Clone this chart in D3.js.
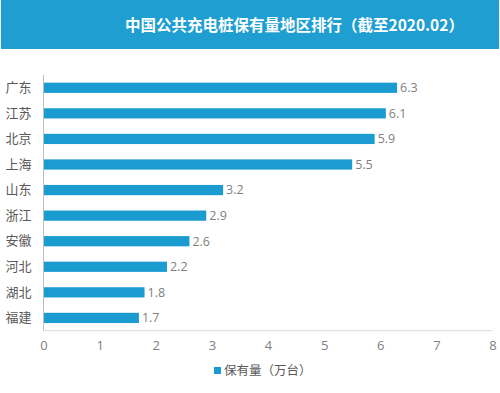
<!DOCTYPE html>
<html><head><meta charset="utf-8">
<script src="https://cdn.jsdelivr.net/npm/d3@7"></script>
<style>
html,body{margin:0;padding:0;background:#fff;}
svg{display:block;}
</style></head>
<body>
<svg id="c" width="500" height="393"></svg>
<script>
const categories = ["广东","江苏","北京","上海","山东","浙江","安徽","河北","湖北","福建"];
const values = [6.3, 6.1, 5.9, 5.5, 3.2, 2.9, 2.6, 2.2, 1.8, 1.7];
const xTicks = [0,1,2,3,4,5,6,7,8];
const titleText = "中国公共充电桩保有量地区排行（截至2020.02）";
const seriesName = "保有量（万台）";

const svg = d3.select("#c");
const blue = "#1b9cd1";
const font = "'Open Sans','Noto Sans CJK SC',sans-serif";

// header band
svg.append("rect").attr("x",1).attr("y",0).attr("width",498).attr("height",49).attr("fill","#1e9ed1");
svg.append("text").attr("x",125).attr("y",31)
  .attr("fill","#fff").attr("font-size",15.5).attr("font-weight","bold")
  .attr("font-family","'Noto Sans CJK SC',sans-serif")
  .text(titleText);

const x = d3.scaleLinear().domain([0,8]).range([43.5,492.5]);
const y = d3.scaleBand().domain(categories).range([75,330.7]).paddingInner(0.6).paddingOuter(0.3);

// x axis line
svg.append("line").attr("x1",x(0)).attr("x2",x(8)).attr("y1",330.7).attr("y2",330.7)
  .attr("stroke","#d9d9d9").attr("stroke-width",1);
// y axis line
svg.append("line").attr("x1",x(0)).attr("x2",x(0)).attr("y1",75).attr("y2",330.7)
  .attr("stroke","#bfbfbf").attr("stroke-width",1);

// x tick labels
const xAxis = d3.axisBottom(x).tickValues(xTicks).tickSize(0).tickPadding(0).tickFormat(d3.format("d"));
const gx = svg.append("g").attr("transform","translate(0,341)").call(xAxis);
gx.select(".domain").remove();
gx.selectAll("text").attr("font-size",13).attr("font-family",font).attr("fill","#808080").attr("dy","0.71em");

// y labels
const yAxis = d3.axisLeft(y).tickSize(0).tickPadding(12);
const gy = svg.append("g").attr("transform",`translate(${x(0)},0)`).call(yAxis);
gy.select(".domain").remove();
gy.selectAll("text").attr("font-size",13).attr("font-family",font).attr("fill","#595959");

// bars
svg.append("g").selectAll("rect").data(values).join("rect")
  .attr("x",x(0)+0.5).attr("y",(d,i)=>y(categories[i]))
  .attr("width",d=>x(d)-x(0)-0.5).attr("height",y.bandwidth())
  .attr("fill",blue);

// value labels
svg.append("g").selectAll("text").data(values).join("text")
  .attr("x",d=>x(d)+3).attr("y",(d,i)=>y(categories[i])+y.bandwidth()/2)
  .attr("dy","0.35em").attr("font-size",12.5).attr("font-family",font).attr("fill","#808080")
  .text(d=>d3.format(".1f")(d));

// legend
svg.append("rect").attr("x",214).attr("y",367).attr("width",7).attr("height",7).attr("fill",blue);
svg.append("text").attr("x",224).attr("y",370.5).attr("dy","0.35em")
  .attr("font-size",12.5).attr("font-family",font).attr("fill","#595959").text(seriesName);
</script>
</body></html>
